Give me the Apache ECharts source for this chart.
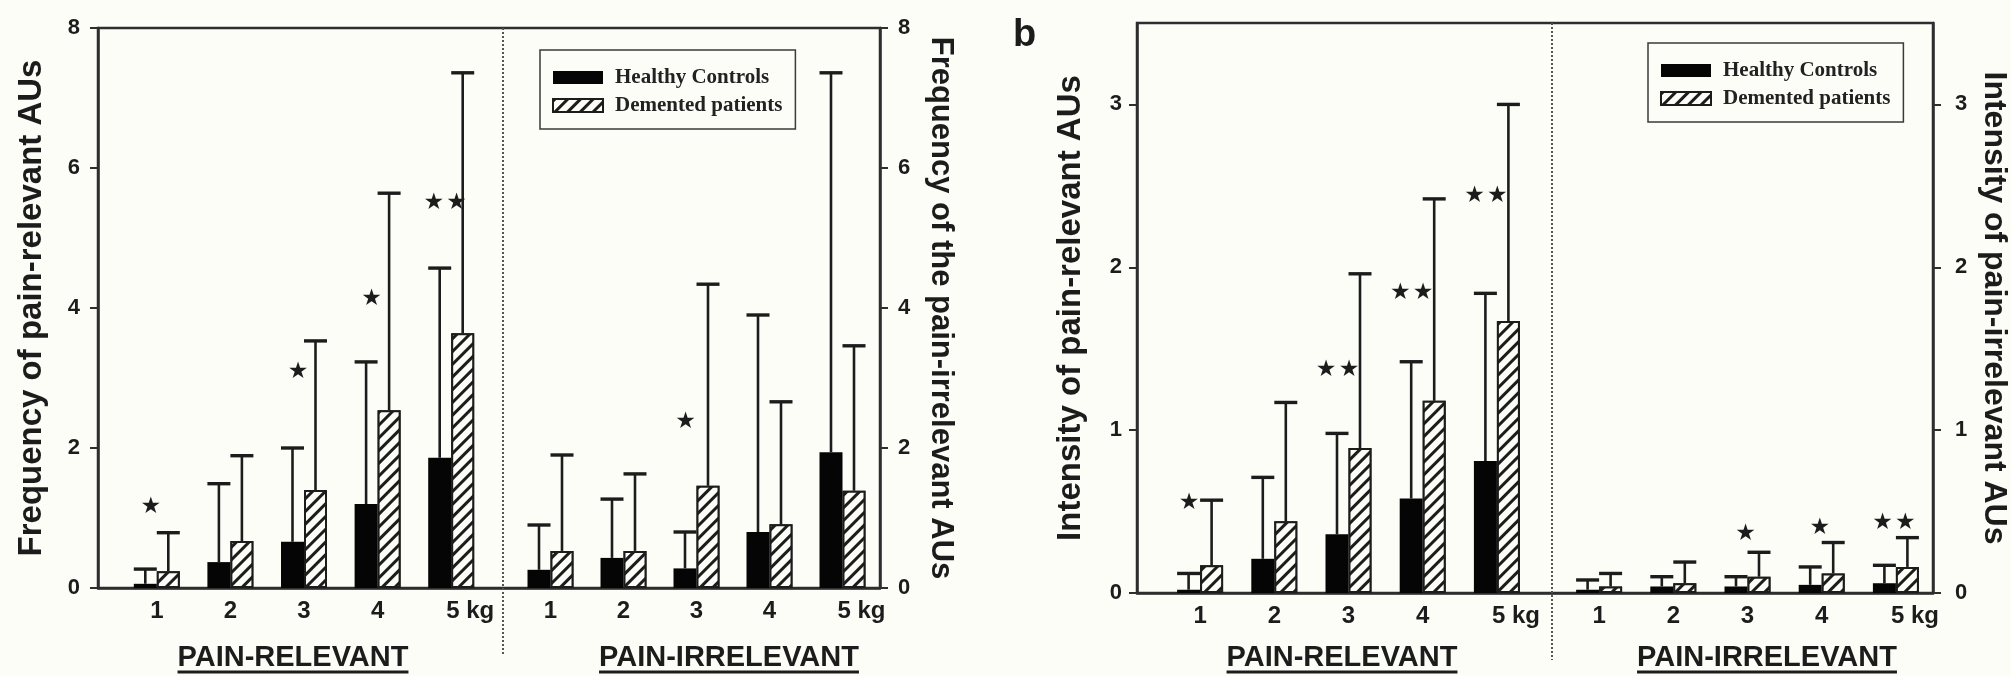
<!DOCTYPE html>
<html>
<head>
<meta charset="utf-8">
<script src="https://cdn.jsdelivr.net/npm/echarts@6/dist/echarts.min.js"></script>
<style>
html,body{margin:0;padding:0;background:#fdfdf8;}
#main{width:2011px;height:676px;}
</style>
</head>
<body>
<div id="main"></div>
<script>
// 负重 (kg)
var kgLabels = ['1', '2', '3', '4', '5'];

// a: frequency, pain-relevant AUs
var freqRelHealthy     = [0.06, 0.37, 0.66, 1.20, 1.86];
var freqRelHealthyErr  = [0.27, 1.49, 2.00, 3.23, 4.57];
var freqRelDemented    = [0.24, 0.67, 1.40, 2.54, 3.64];
var freqRelDementedErr = [0.79, 1.89, 3.53, 5.64, 7.36];
var freqRelStars = [[0, 1.16, '*'], [2, 3.09, '*'], [3, 4.13, '*'], [4, 5.50, '**']];

// a: frequency, pain-irrelevant AUs
var freqIrrHealthy     = [0.26, 0.43, 0.28, 0.80, 1.94];
var freqIrrHealthyErr  = [0.90, 1.27, 0.80, 3.90, 7.36];
var freqIrrDemented    = [0.53, 0.53, 1.46, 0.91, 1.39];
var freqIrrDementedErr = [1.90, 1.63, 4.34, 2.66, 3.46];
var freqIrrStars = [[2, 2.37, '*']];

// b: intensity, pain-relevant AUs
var intRelHealthy     = [0.02, 0.21, 0.36, 0.58, 0.81];
var intRelHealthyErr  = [0.12, 0.71, 0.98, 1.42, 1.84];
var intRelDemented    = [0.17, 0.44, 0.89, 1.18, 1.67];
var intRelDementedErr = [0.57, 1.17, 1.96, 2.42, 3.00];
var intRelStars = [[0, 0.55, '*'], [2, 1.37, '**'], [3, 1.84, '**'], [4, 2.44, '**']];

// b: intensity, pain-irrelevant AUs
var intIrrHealthy     = [0.02, 0.04, 0.04, 0.05, 0.06];
var intIrrHealthyErr  = [0.08, 0.10, 0.10, 0.16, 0.17];
var intIrrDemented    = [0.04, 0.06, 0.10, 0.12, 0.16];
var intIrrDementedErr = [0.12, 0.19, 0.25, 0.31, 0.34];
var intIrrStars = [[2, 0.36, '*'], [3, 0.40, '*'], [4, 0.43, '**']];

var freqTicks = [0, 2, 4, 6, 8];
var intTicks = [0, 1, 2, 3];

// 样式
var INK = '#1c1c1c';
var AXIS = '#2e2e2e';
var BG = '#fdfdf8';
var SANS = '"Liberation Sans", Arial, sans-serif';
var SERIF = '"Liberation Serif", "Times New Roman", serif';
var BAR_W = 23;
var CAP_W = 23;

var myChart = echarts.init(document.getElementById('main'));

function textWidth(str, font) {
	var ctx = document.createElement('canvas').getContext('2d');
	ctx.font = font;
	return ctx.measureText(str).width;
}

/**
 * 误差线 (只画上半部分)
 */
function errRender(shift) {
	return function (params, api) {
		var idx = api.value(0);
		var base = api.coord([idx, api.value(1)]);
		var top = api.coord([idx, api.value(2)]);
		var x = base[0] + shift;
		return {
			type: 'group',
			children: [
				{ type: 'line', shape: { x1: x, y1: base[1], x2: x, y2: top[1] }, style: { stroke: INK, lineWidth: 2.6 } },
				{ type: 'line', shape: { x1: x - CAP_W / 2, y1: top[1], x2: x + CAP_W / 2, y2: top[1] }, style: { stroke: INK, lineWidth: 3.4 } }
			]
		};
	};
}

/**
 * 显著性星号
 */
function starRender(stars, shift) {
	return function (params, api) {
		var p = api.coord([api.value(0), api.value(1)]);
		var s = stars[params.dataIndex][2] == '**' ? '\u2605\u200a\u2605' : '\u2605';
		return {
			type: 'text',
			x: p[0] + shift,
			y: p[1],
			style: { text: s, font: '23px "DejaVu Sans"', fill: INK, align: 'center', verticalAlign: 'middle' }
		};
	};
}

var decalHatch = {
	symbol: 'rect',
	symbolSize: 1,
	dashArrayX: [1, 0],
	dashArrayY: [2.6, 5.6],
	rotation: -Math.PI / 4,
	color: INK,
	backgroundColor: BG
};

// 布局
var frames = [
	{ left: 98, top: 28, width: 782, height: 560, max: 8, ticks: freqTicks, interval: 2,
	  leftName: 'Frequency of pain-relevant AUs', rightName: 'Frequency of the pain-irrelevant AUs',
	  leftSize: 33, rightSize: 31, leftMargin: 18, rightMargin: 18 },
	{ left: 1137, top: 23, width: 798, height: 570, max: 3.5, ticks: intTicks, interval: 1,
	  leftName: 'Intensity of pain-relevant AUs', rightName: 'Intensity of pain-irrelevant AUs',
	  leftSize: 33, rightSize: 32, leftMargin: 15, rightMargin: 22 }
];

var panels = [
	{ frame: 0, left: 120, width: 368, h: freqRelHealthy, hErr: freqRelHealthyErr, d: freqRelDemented, dErr: freqRelDementedErr, stars: freqRelStars, starShift: -6 },
	{ frame: 0, left: 514, width: 365, h: freqIrrHealthy, hErr: freqIrrHealthyErr, d: freqIrrDemented, dErr: freqIrrDementedErr, stars: freqIrrStars, starShift: -11 },
	{ frame: 1, left: 1163, width: 371, h: intRelHealthy, hErr: intRelHealthyErr, d: intRelDemented, dErr: intRelDementedErr, stars: intRelStars, starShift: -11 },
	{ frame: 1, left: 1562, width: 371, h: intIrrHealthy, hErr: intIrrHealthyErr, d: intIrrDemented, dErr: intIrrDementedErr, stars: intIrrStars, starShift: -2 }
];

var grids = [], xAxes = [], yAxes = [], series = [];

frames.forEach(function (f, fi) {
	grids.push({ left: f.left, top: f.top, width: f.width, height: f.height, show: true,
		borderColor: AXIS, borderWidth: 2.5, backgroundColor: 'transparent' });
	xAxes.push({ type: 'value', gridIndex: fi, min: 0, max: 1, show: true,
		axisLine: { show: true, lineStyle: { color: AXIS, width: 2.5 } },
		axisTick: { show: false }, axisLabel: { show: false }, splitLine: { show: false } });
	['left', 'right'].forEach(function (pos) {
		yAxes.push({
			type: 'value', gridIndex: fi, position: pos, min: 0, max: f.max, interval: f.interval,
			name: pos == 'left' ? f.leftName : f.rightName,
			nameLocation: 'middle',
			nameRotate: pos == 'left' ? 90 : -90,
			nameGap: pos == 'left' ? 50 : 45,
			nameTextStyle: { fontFamily: SANS, fontWeight: 'bold', fontSize: pos == 'left' ? f.leftSize : f.rightSize, color: INK },
			axisLine: { show: true, lineStyle: { color: AXIS, width: 2.5 } },
			axisTick: { show: true, length: 8, customValues: f.ticks, lineStyle: { color: AXIS, width: 2 } },
			axisLabel: { show: true, customValues: f.ticks, margin: pos == 'left' ? f.leftMargin : f.rightMargin,
				fontFamily: SANS, fontWeight: 'bold', fontSize: 22, color: INK },
			splitLine: { show: false }
		});
	});
});

panels.forEach(function (p, k) {
	var f = frames[p.frame];
	var gi = grids.length;
	grids.push({ left: p.left, top: f.top, width: p.width, height: f.height, show: false });
	var xi = xAxes.length;
	xAxes.push({
		type: 'category', gridIndex: gi, data: kgLabels,
		axisLine: { show: false }, axisTick: { show: false },
		axisLabel: {
			interval: 0, margin: 11, fontFamily: SANS, fontWeight: 'bold', fontSize: 24, color: INK,
			formatter: function (v) { return v == '5' ? '{k|5 kg}' : v; },
			rich: { k: { padding: [0, 0, 0, 38], fontFamily: SANS, fontWeight: 'bold', fontSize: 24, color: INK } }
		}
	});
	var yi = yAxes.length;
	yAxes.push({ type: 'value', gridIndex: gi, min: 0, max: f.max, show: false, splitLine: { show: false } });

	series.push({
		name: 'Healthy Controls', type: 'bar', xAxisIndex: xi, yAxisIndex: yi,
		data: p.h, barWidth: BAR_W, barGap: '0%',
		itemStyle: { color: '#050505' }
	});
	series.push({
		name: 'Demented patients', type: 'bar', xAxisIndex: xi, yAxisIndex: yi,
		data: p.d, barWidth: BAR_W, barGap: '0%',
		itemStyle: { color: BG, borderColor: INK, borderWidth: 2, decal: decalHatch }
	});
	series.push({
		name: 'errH' + k, type: 'custom', xAxisIndex: xi, yAxisIndex: yi, z: 3,
		encode: { x: 0, y: [1, 2] },
		data: kgLabels.map(function (c, i) { return [i, p.h[i], p.hErr[i]]; }),
		renderItem: errRender(-BAR_W / 2)
	});
	series.push({
		name: 'errD' + k, type: 'custom', xAxisIndex: xi, yAxisIndex: yi, z: 3,
		encode: { x: 0, y: [1, 2] },
		data: kgLabels.map(function (c, i) { return [i, p.d[i], p.dErr[i]]; }),
		renderItem: errRender(BAR_W / 2)
	});
	series.push({
		name: 'stars' + k, type: 'custom', xAxisIndex: xi, yAxisIndex: yi, z: 4,
		encode: { x: 0, y: 1 },
		data: p.stars.map(function (s) { return [s[0], s[1]]; }),
		renderItem: starRender(p.stars, p.starShift)
	});
});

function legendAt(left, top) {
	return {
		left: left, top: top, orient: 'vertical', selectedMode: false,
		data: ['Healthy Controls', 'Demented patients'],
		icon: 'rect', itemWidth: 50, itemHeight: 13, itemGap: 7,
		padding: [17, 13, 13, 12],
		borderColor: '#3a3a3a', borderWidth: 1.5, backgroundColor: BG,
		textStyle: { fontFamily: SERIF, fontWeight: 'bold', fontSize: 21, color: '#222', padding: [0, 0, 0, 7], lineHeight: 20 }
	};
}

// 下方的分组标题 (带下划线)
var CAP_FONT = 'bold 29px "Liberation Sans"';
var captions = [
	{ text: 'PAIN-RELEVANT', x: 293 },
	{ text: 'PAIN-IRRELEVANT', x: 729 },
	{ text: 'PAIN-RELEVANT', x: 1342 },
	{ text: 'PAIN-IRRELEVANT', x: 1767 }
];
var graphics = [];
captions.forEach(function (c) {
	var w = textWidth(c.text, CAP_FONT);
	graphics.push({ type: 'text', x: c.x, y: 658, z: 10,
		style: { text: c.text, font: CAP_FONT, fill: INK, align: 'center', verticalAlign: 'middle' } });
	graphics.push({ type: 'line', z: 10, shape: { x1: c.x - w / 2, y1: 672, x2: c.x + w / 2, y2: 672 },
		style: { stroke: INK, lineWidth: 3 } });
});
// 虚线分隔
graphics.push({ type: 'line', z: 1, shape: { x1: 503, y1: 28, x2: 503, y2: 654 },
	style: { stroke: '#555', lineWidth: 2, lineDash: [2, 2] } });
graphics.push({ type: 'line', z: 1, shape: { x1: 1552, y1: 23, x2: 1552, y2: 660 },
	style: { stroke: '#555', lineWidth: 2, lineDash: [2, 2] } });
graphics.push({ type: 'text', x: 1013, y: 36, z: 10,
	style: { text: 'b', font: 'bold 38px "Liberation Sans"', fill: INK, align: 'left', verticalAlign: 'middle' } });

var option = {
	backgroundColor: BG,
	animation: false,
	grid: grids,
	xAxis: xAxes,
	yAxis: yAxes,
	legend: [legendAt(540, 50), legendAt(1648, 43)],
	graphic: graphics,
	series: series
};

myChart.setOption(option);
</script>
</body>
</html>
